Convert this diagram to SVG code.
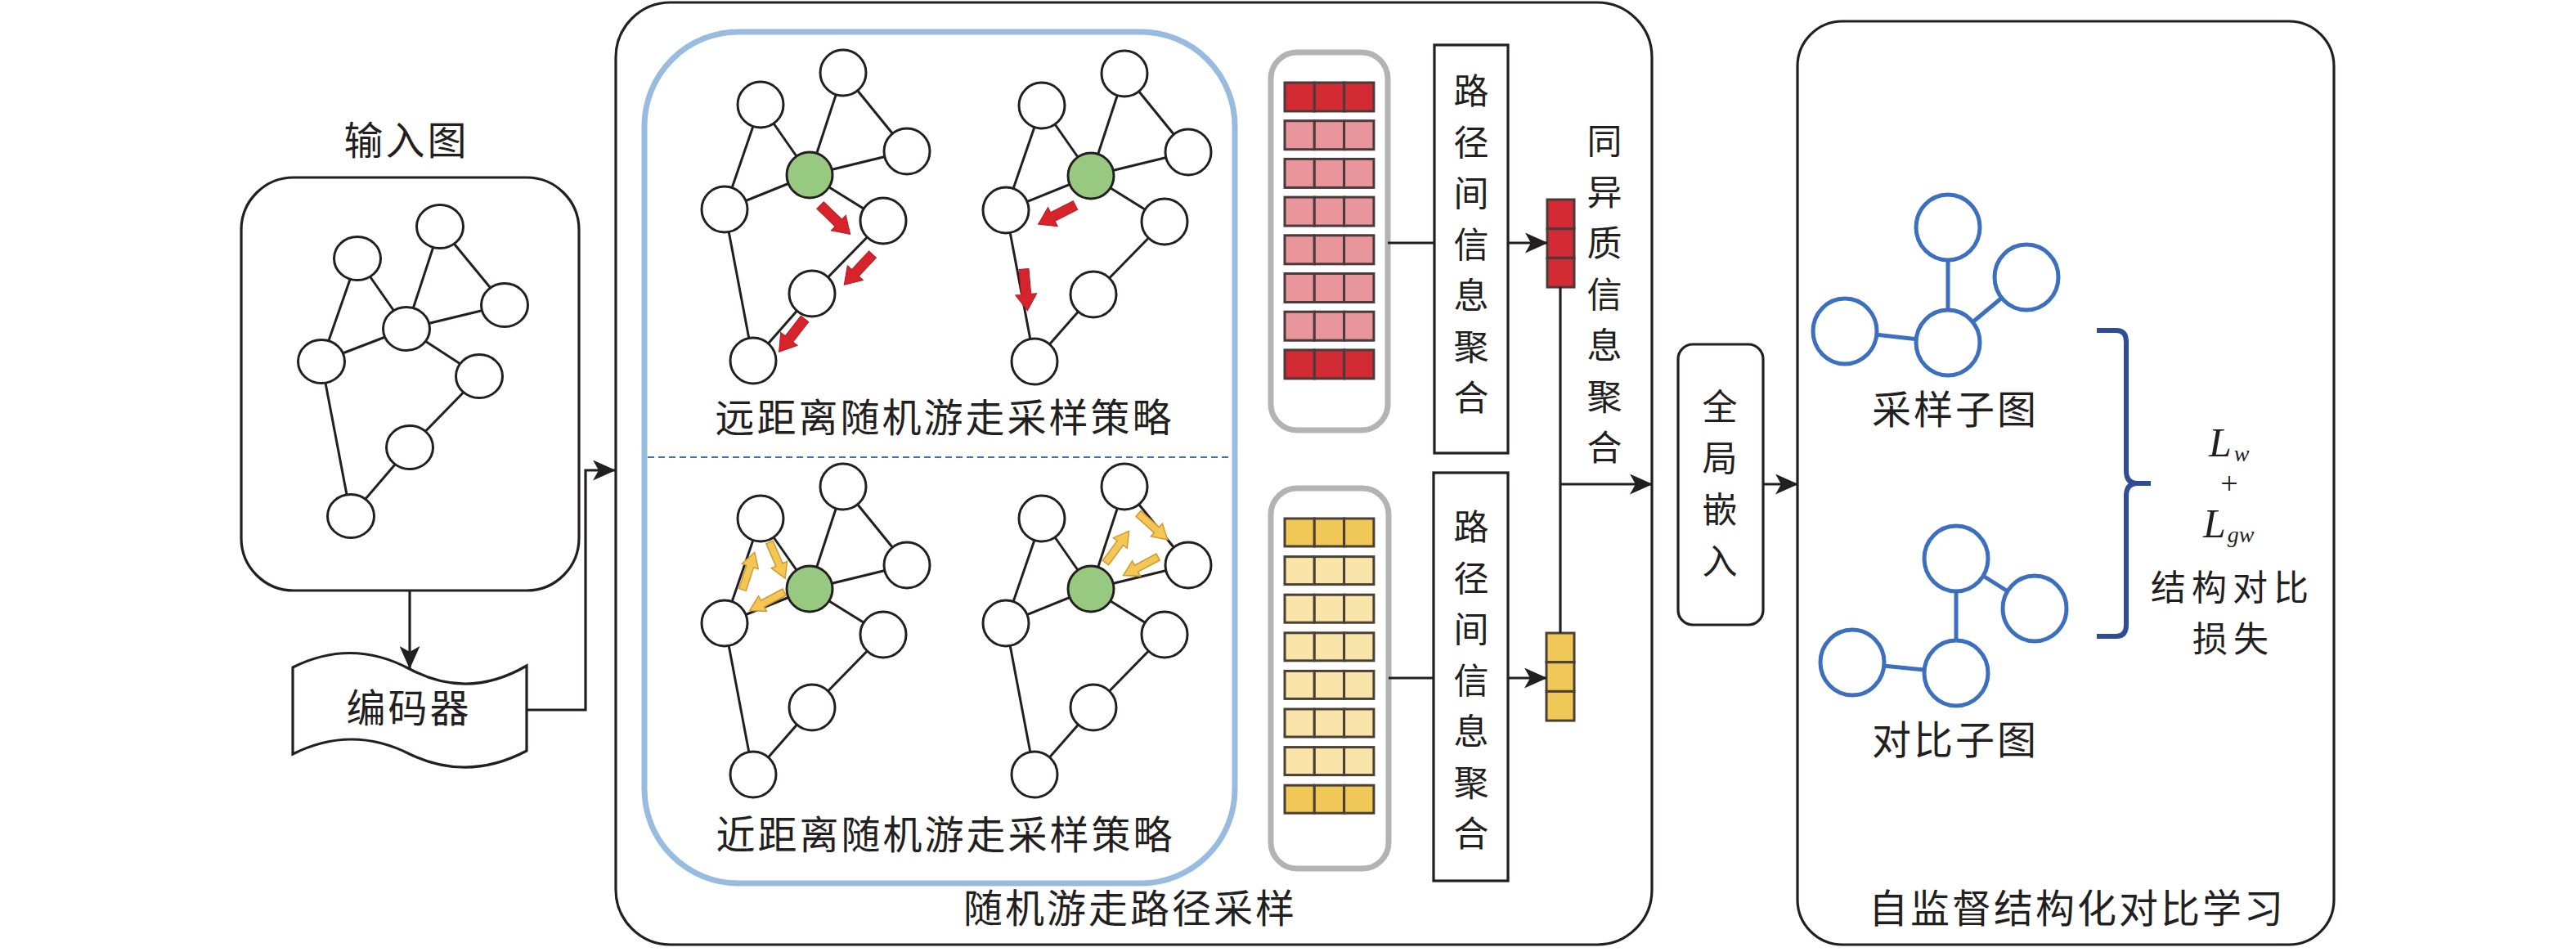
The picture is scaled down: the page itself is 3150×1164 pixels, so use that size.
<svg xmlns="http://www.w3.org/2000/svg" xmlns:xlink="http://www.w3.org/1999/xlink" width="3150" height="1164" viewBox="0 0 3150 1164">
<style>
.frame{fill:#fff;stroke:#231f20;stroke-width:3.2}
.ln{fill:none;stroke:#231f20;stroke-width:3.2}
.arr{fill:none;stroke:#231f20;stroke-width:3.2;marker-end:url(#ah)}
.nd{fill:#fff;stroke:#231f20;stroke-width:3}
.hub{fill:#97CA80;stroke:#231f20;stroke-width:3}
.cjk{font-family:"Noto Sans CJK SC","Noto Sans CJK JP",sans-serif;font-size:48px;fill:#231f20;letter-spacing:3px}
.cjk2{font-family:"Noto Sans CJK SC","Noto Sans CJK JP",sans-serif;font-size:43px;fill:#231f20;letter-spacing:7px;text-anchor:middle}
.vt{font-family:"Noto Sans CJK SC","Noto Sans CJK JP",sans-serif;font-size:43px;fill:#231f20;text-anchor:middle}
.mid{text-anchor:middle}
.gray{fill:#fff;stroke:#B3B3B3;stroke-width:7}
.rd{fill:#D22B34;stroke:#4B3A3C;stroke-width:3}
.pk{fill:#E8969B;stroke:#4B3A3C;stroke-width:3}
.yd{fill:#F0C858;stroke:#4A4036;stroke-width:3}
.yp{fill:#F9E4AA;stroke:#4A4036;stroke-width:3}
.bn{fill:#fff;stroke:#3C6FBF;stroke-width:5}
.be{stroke:#3C6FBF;stroke-width:5}
.math{font-family:"Liberation Serif",serif;font-style:italic;fill:#231f20}
</style>
<defs>
<marker id="ah" viewBox="0 0 28 25" markerWidth="28" markerHeight="25" refX="27" refY="12.5" orient="auto" markerUnits="userSpaceOnUse">
<path d="M0,0 L28,12.5 L0,25 L7,12.5 Z" fill="#231f20"/>
</marker>
<path id="redArrow" d="M0,-6 L31,-6 L31,-13 L51,0 L31,13 L31,6 L0,6 Z" fill="#D7232B" stroke="#B01C22" stroke-width="1"/>
<path id="yelArrow" d="M0,-4.5 L30,-4.5 L30,-10.5 L48,0 L30,10.5 L30,4.5 L0,4.5 Z" fill="#F4C655" stroke="#D09A2C" stroke-width="1.5"/>
<g id="walkGraph">
<g class="ln" style="stroke-width:3">
<line x1="930" y1="128" x2="886" y2="256"/>
<line x1="930" y1="128" x2="990" y2="214"/>
<line x1="1031" y1="89" x2="990" y2="214"/>
<line x1="1031" y1="89" x2="1109" y2="185"/>
<line x1="990" y1="214" x2="1109" y2="185"/>
<line x1="990" y1="214" x2="886" y2="256"/>
<line x1="990" y1="214" x2="1080" y2="270"/>
<line x1="1080" y1="270" x2="993" y2="359"/>
<line x1="993" y1="359" x2="921" y2="441"/>
<line x1="886" y1="256" x2="921" y2="441"/>
</g>
<circle class="nd" cx="930" cy="128" r="28"/>
<circle class="nd" cx="1031" cy="89" r="28"/>
<circle class="nd" cx="1109" cy="185" r="28"/>
<circle class="nd" cx="886" cy="256" r="28"/>
<circle class="nd" cx="1080" cy="270" r="28"/>
<circle class="nd" cx="993" cy="359" r="28"/>
<circle class="nd" cx="921" cy="441" r="28"/>
<circle class="hub" cx="990" cy="214" r="28"/>
</g>
</defs>
<rect width="3150" height="1164" fill="#fff"/>

<!-- Input graph -->
<g id="input-graph">
<text class="cjk mid" x="497" y="189">输入图</text>
<rect class="frame" x="295" y="217" width="413" height="505" rx="64"/>
<g class="ln" style="stroke-width:3">
<line x1="437" y1="316" x2="393" y2="442"/>
<line x1="437" y1="316" x2="497" y2="402"/>
<line x1="538" y1="277" x2="497" y2="402"/>
<line x1="538" y1="277" x2="617" y2="373"/>
<line x1="497" y1="402" x2="617" y2="373"/>
<line x1="497" y1="402" x2="393" y2="442"/>
<line x1="497" y1="402" x2="586" y2="460"/>
<line x1="586" y1="460" x2="501" y2="547"/>
<line x1="501" y1="547" x2="429" y2="631"/>
<line x1="393" y1="442" x2="429" y2="631"/>
</g>
<ellipse class="nd" cx="437" cy="316" rx="28.5" ry="26.5"/>
<ellipse class="nd" cx="538" cy="277" rx="28.5" ry="26.5"/>
<ellipse class="nd" cx="497" cy="402" rx="28.5" ry="26.5"/>
<ellipse class="nd" cx="617" cy="373" rx="28.5" ry="26.5"/>
<ellipse class="nd" cx="393" cy="442" rx="28.5" ry="26.5"/>
<ellipse class="nd" cx="586" cy="460" rx="28.5" ry="26.5"/>
<ellipse class="nd" cx="501" cy="547" rx="28.5" ry="26.5"/>
<ellipse class="nd" cx="429" cy="631" rx="28.5" ry="26.5"/>
</g>

<!-- Encoder -->
<g id="encoder">
<path class="frame" d="M358,816 Q430,780 501,818 Q572,856 644,814 L644,918 Q572,956 501,922 Q430,886 358,922 Z"/>
<text class="cjk mid" x="500" y="883">编码器</text>
</g>

<!-- Random walk path sampling -->
<g id="walk-sampling">
<rect class="frame" x="753" y="3" width="1267" height="1152" rx="67"/>
<text class="cjk mid" x="1382" y="1128">随机游走路径采样</text>
</g>

<g id="strategies">
<rect x="788" y="39" width="722" height="1041" rx="115" fill="none" stroke="#98BCDF" stroke-width="7"/>
<line x1="792" y1="559" x2="1506" y2="559" stroke="#4670B0" stroke-width="2" stroke-dasharray="8,5"/>
</g>

<g id="far-walk">
<use href="#walkGraph"/>
<use href="#walkGraph" transform="translate(344,1)"/>
<use href="#redArrow" transform="translate(1003,251) rotate(44)"/>
<use href="#redArrow" transform="translate(1067,311) rotate(133)"/>
<use href="#redArrow" transform="translate(984,390) rotate(128)"/>
<use href="#redArrow" transform="translate(1315,251) rotate(153)"/>
<use href="#redArrow" transform="translate(1252,329) rotate(85)"/>
<text class="cjk mid" x="1155" y="528">远距离随机游走采样策略</text>
</g>

<g id="near-walk">
<use href="#walkGraph" transform="translate(0,506)"/>
<use href="#walkGraph" transform="translate(344,506)"/>
<use href="#yelArrow" transform="translate(908,721) rotate(-72)"/>
<use href="#yelArrow" transform="translate(941,663) rotate(66.6)"/>
<use href="#yelArrow" transform="translate(959,724) rotate(152)"/>
<use href="#yelArrow" transform="translate(1352,688) rotate(-53.6)"/>
<use href="#yelArrow" transform="translate(1392,628) rotate(41.7)"/>
<use href="#yelArrow" transform="translate(1416,681) rotate(152)"/>
<text class="cjk mid" x="1156" y="1038">近距离随机游走采样策略</text>
</g>

<!-- path embeddings (far) -->
<g id="far-paths">
<rect class="gray" x="1554" y="64" width="143" height="462" rx="32"/>
<g>
<rect class="rd" x="1571" y="101" width="36.3" height="35"/><rect class="rd" x="1607.3" y="101" width="36.3" height="35"/><rect class="rd" x="1643.6" y="101" width="36.3" height="35"/>
<rect class="pk" x="1571" y="147.7" width="36.3" height="35"/><rect class="pk" x="1607.3" y="147.7" width="36.3" height="35"/><rect class="pk" x="1643.6" y="147.7" width="36.3" height="35"/>
<rect class="pk" x="1571" y="194.4" width="36.3" height="35"/><rect class="pk" x="1607.3" y="194.4" width="36.3" height="35"/><rect class="pk" x="1643.6" y="194.4" width="36.3" height="35"/>
<rect class="pk" x="1571" y="241.1" width="36.3" height="35"/><rect class="pk" x="1607.3" y="241.1" width="36.3" height="35"/><rect class="pk" x="1643.6" y="241.1" width="36.3" height="35"/>
<rect class="pk" x="1571" y="287.8" width="36.3" height="35"/><rect class="pk" x="1607.3" y="287.8" width="36.3" height="35"/><rect class="pk" x="1643.6" y="287.8" width="36.3" height="35"/>
<rect class="pk" x="1571" y="334.5" width="36.3" height="35"/><rect class="pk" x="1607.3" y="334.5" width="36.3" height="35"/><rect class="pk" x="1643.6" y="334.5" width="36.3" height="35"/>
<rect class="pk" x="1571" y="381.2" width="36.3" height="35"/><rect class="pk" x="1607.3" y="381.2" width="36.3" height="35"/><rect class="pk" x="1643.6" y="381.2" width="36.3" height="35"/>
<rect class="rd" x="1571" y="427.9" width="36.3" height="35"/><rect class="rd" x="1607.3" y="427.9" width="36.3" height="35"/><rect class="rd" x="1643.6" y="427.9" width="36.3" height="35"/>
</g>
</g>

<g id="near-paths">
<rect class="gray" x="1554" y="597" width="144" height="465" rx="32"/>
<g>
<rect class="yd" x="1571" y="634" width="36.3" height="34"/><rect class="yd" x="1607.3" y="634" width="36.3" height="34"/><rect class="yd" x="1643.6" y="634" width="36.3" height="34"/>
<rect class="yp" x="1571" y="680.6" width="36.3" height="34"/><rect class="yp" x="1607.3" y="680.6" width="36.3" height="34"/><rect class="yp" x="1643.6" y="680.6" width="36.3" height="34"/>
<rect class="yp" x="1571" y="727.2" width="36.3" height="34"/><rect class="yp" x="1607.3" y="727.2" width="36.3" height="34"/><rect class="yp" x="1643.6" y="727.2" width="36.3" height="34"/>
<rect class="yp" x="1571" y="773.8" width="36.3" height="34"/><rect class="yp" x="1607.3" y="773.8" width="36.3" height="34"/><rect class="yp" x="1643.6" y="773.8" width="36.3" height="34"/>
<rect class="yp" x="1571" y="820.4" width="36.3" height="34"/><rect class="yp" x="1607.3" y="820.4" width="36.3" height="34"/><rect class="yp" x="1643.6" y="820.4" width="36.3" height="34"/>
<rect class="yp" x="1571" y="867" width="36.3" height="34"/><rect class="yp" x="1607.3" y="867" width="36.3" height="34"/><rect class="yp" x="1643.6" y="867" width="36.3" height="34"/>
<rect class="yp" x="1571" y="913.6" width="36.3" height="34"/><rect class="yp" x="1607.3" y="913.6" width="36.3" height="34"/><rect class="yp" x="1643.6" y="913.6" width="36.3" height="34"/>
<rect class="yd" x="1571" y="960.2" width="36.3" height="34"/><rect class="yd" x="1607.3" y="960.2" width="36.3" height="34"/><rect class="yd" x="1643.6" y="960.2" width="36.3" height="34"/>
</g>
</g>

<g id="inter-path-agg-far">
<rect class="frame" x="1754" y="55" width="90" height="499"/>
<text class="vt"><tspan x="1799" y="127">路</tspan><tspan x="1799" y="189.5">径</tspan><tspan x="1799" y="252">间</tspan><tspan x="1799" y="314.5">信</tspan><tspan x="1799" y="377">息</tspan><tspan x="1799" y="439.5">聚</tspan><tspan x="1799" y="502">合</tspan></text>
</g>

<g id="inter-path-agg-near">
<rect class="frame" x="1753" y="578" width="91" height="499"/>
<text class="vt"><tspan x="1799" y="660">路</tspan><tspan x="1799" y="722.5">径</tspan><tspan x="1799" y="785">间</tspan><tspan x="1799" y="847.5">信</tspan><tspan x="1799" y="910">息</tspan><tspan x="1799" y="972.5">聚</tspan><tspan x="1799" y="1035">合</tspan></text>
</g>

<g id="far-vector">
<rect class="rd" x="1892" y="244" width="33" height="35.7"/>
<rect class="rd" x="1892" y="279.7" width="33" height="35.7"/>
<rect class="rd" x="1892" y="315.4" width="33" height="35.7"/>
</g>

<g id="near-vector">
<rect class="yd" x="1891" y="774" width="34" height="35.7"/>
<rect class="yd" x="1891" y="809.7" width="34" height="35.7"/>
<rect class="yd" x="1891" y="845.4" width="34" height="35.7"/>
</g>

<g id="homo-hetero-agg">
<text class="vt"><tspan x="1962" y="188">同</tspan><tspan x="1962" y="250.5">异</tspan><tspan x="1962" y="313">质</tspan><tspan x="1962" y="375.5">信</tspan><tspan x="1962" y="438">息</tspan><tspan x="1962" y="500.5">聚</tspan><tspan x="1962" y="563">合</tspan></text>
</g>

<g id="global-embedding">
<rect class="frame" x="2052" y="421" width="104" height="343" rx="18"/>
<text class="vt"><tspan x="2103" y="513">全</tspan><tspan x="2103" y="576">局</tspan><tspan x="2103" y="639">嵌</tspan><tspan x="2103" y="702">入</tspan></text>
</g>

<!-- Self-supervised structural contrastive learning -->
<g id="contrastive-learning">
<rect class="frame" x="2198" y="26" width="656" height="1129" rx="55"/>
<text class="cjk mid" x="2540" y="1128">自监督结构化对比学习</text>
</g>

<g id="sampled-subgraph">
<line class="be" x1="2382" y1="278" x2="2382" y2="419"/>
<line class="be" x1="2382" y1="419" x2="2478" y2="339"/>
<line class="be" x1="2256" y1="405" x2="2382" y2="419"/>
<ellipse class="bn" cx="2382" cy="278" rx="39" ry="40"/>
<ellipse class="bn" cx="2478" cy="339" rx="39" ry="40"/>
<ellipse class="bn" cx="2382" cy="419" rx="39" ry="40"/>
<ellipse class="bn" cx="2256" cy="405" rx="39" ry="40"/>
<text class="cjk mid" x="2391" y="518">采样子图</text>
</g>

<g id="contrast-subgraph">
<line class="be" x1="2392" y1="683" x2="2488" y2="744"/>
<line class="be" x1="2392" y1="683" x2="2392" y2="823"/>
<line class="be" x1="2265" y1="810" x2="2392" y2="823"/>
<ellipse class="bn" cx="2392" cy="683" rx="39" ry="40"/>
<ellipse class="bn" cx="2488" cy="744" rx="39" ry="40"/>
<ellipse class="bn" cx="2392" cy="823" rx="39" ry="40"/>
<ellipse class="bn" cx="2265" cy="810" rx="39" ry="40"/>
<text class="cjk mid" x="2391" y="922">对比子图</text>
</g>

<g id="loss">
<path d="M2564,404 L2588,404 Q2600,404 2600,418 L2600,576 Q2600,591 2614,591 L2630,591 M2614,591 Q2600,591 2600,606 L2600,764 Q2600,778 2588,778 L2564,778" fill="none" stroke="#2F4C97" stroke-width="6"/>
<text class="math" x="2701" y="558" font-size="50">L<tspan font-size="28" dx="3" dy="6">w</tspan></text>
<text x="2726" y="604" font-family="Liberation Serif,serif" font-size="38" fill="#231f20" text-anchor="middle">+</text>
<text class="math" x="2694" y="657" font-size="50">L<tspan font-size="28" dx="2" dy="6">gw</tspan></text>
<text class="cjk2" x="2730" y="734">结构对比</text>
<text class="cjk2" x="2731" y="797">损失</text>
</g>

<!-- Connectors -->
<g id="connectors">
<path class="arr" d="M501,722 V817"/>
<path class="arr" d="M644,868 H716 V575 H752"/>
<path class="ln" d="M1697,297 H1754"/>
<path class="arr" d="M1844,297 H1892"/>
<path class="ln" d="M1698,829 H1753"/>
<path class="arr" d="M1844,829 H1891"/>
<path class="ln" d="M1908,351 V774"/>
<path class="arr" d="M1908,592 H2020"/>
<path class="arr" d="M2156,592 H2198"/>
</g>
</svg>
